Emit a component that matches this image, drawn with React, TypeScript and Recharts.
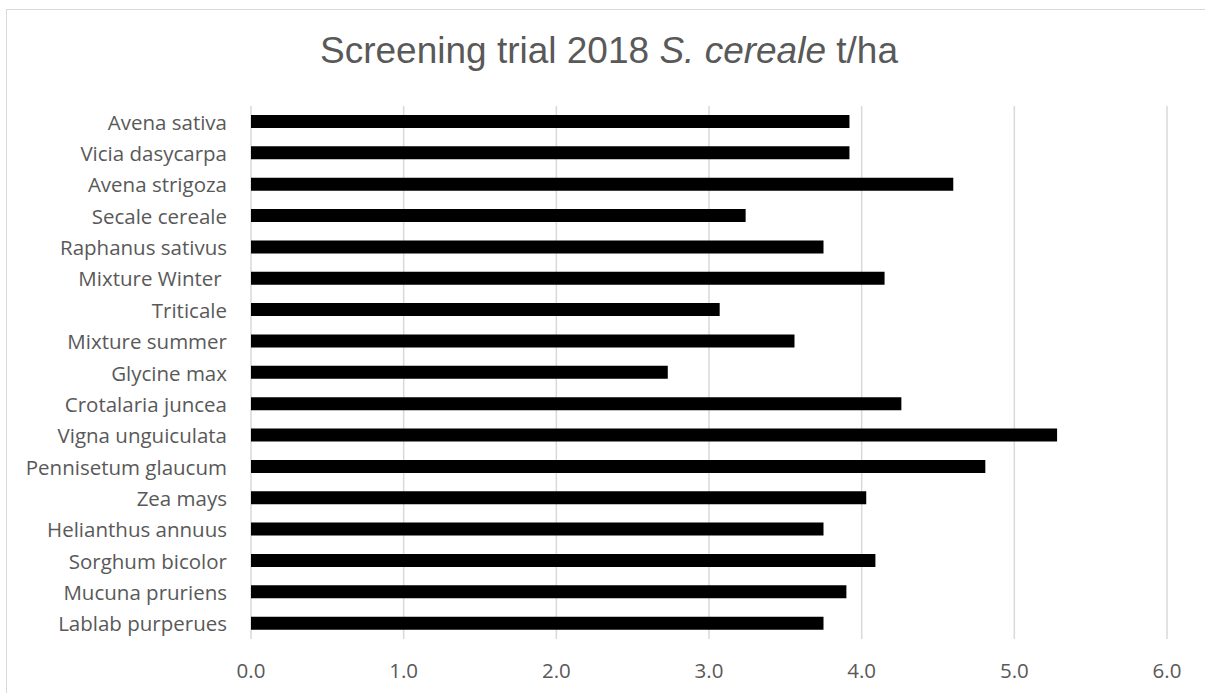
import React from "react";
import { BarChart, Bar, XAxis, YAxis, CartesianGrid } from "recharts";

const categories: string[] = [
  "Avena sativa",
  "Vicia dasycarpa",
  "Avena strigoza",
  "Secale cereale",
  "Raphanus sativus",
  "Mixture Winter ",
  "Triticale",
  "Mixture summer",
  "Glycine max",
  "Crotalaria juncea",
  "Vigna unguiculata",
  "Pennisetum glaucum",
  "Zea mays",
  "Helianthus annuus",
  "Sorghum bicolor",
  "Mucuna pruriens",
  "Lablab purperues",
];

const yieldValues: number[] = [
  3.92, 3.92, 4.6, 3.24, 3.75, 4.15, 3.07, 3.56, 2.73, 4.26, 5.28, 4.81, 4.03,
  3.75, 4.09, 3.9, 3.75,
];

const xTicks: number[] = [0, 1, 2, 3, 4, 5, 6];

const data = categories.map((name, i) => ({ name, value: yieldValues[i] }));

const TEXT_COLOR = "#595959";

const YTick = (props: any) => {
  const { x, y, payload } = props;
  return (
    <text
      x={x}
      y={y}
      textAnchor="end"
      dominantBaseline="central"
      fill={TEXT_COLOR}
      fontFamily="'Open Sans', sans-serif"
      fontSize={20.5}
      style={{ whiteSpace: "pre" }}
    >
      {payload.value}
    </text>
  );
};

const XTick = (props: any) => {
  const { x, y, payload } = props;
  return (
    <text
      x={x}
      y={y + 31}
      textAnchor="middle"
      dominantBaseline="central"
      fill={TEXT_COLOR}
      fontFamily="'Open Sans', sans-serif"
      fontSize={20.5}
    >
      {Number(payload.value).toFixed(1)}
    </text>
  );
};

export default function App() {
  return (
    <div
      style={{
        position: "absolute",
        left: 0,
        top: 0,
        width: 1205,
        height: 693,
        overflow: "hidden",
        background: "#fff",
      }}
    >
      <div
        style={{
          position: "absolute",
          left: 6,
          top: 9,
          width: 1250,
          height: 750,
          border: "1.5px solid #d9d9d9",
          boxSizing: "border-box",
        }}
      />
      <svg
        width={1205}
        height={100}
        style={{ position: "absolute", left: 0, top: 0 }}
      >
        <text
          x={609}
          y={63}
          textAnchor="middle"
          fill={TEXT_COLOR}
          fontFamily="'Liberation Sans', Arial, sans-serif"
          fontSize={37}
        >
          Screening trial 2018{" "}
          <tspan fontStyle="italic">S. cereale</tspan> t/ha
        </text>
      </svg>
      <div style={{ position: "absolute", left: 0, top: 0 }}>
        <BarChart
          width={1205}
          height={693}
          data={data}
          layout="vertical"
          margin={{ top: 106, right: 38, bottom: 0, left: 0 }}
          barSize={13}
        >
          <CartesianGrid
            horizontal={false}
            vertical={true}
            stroke="#d9d9d9"
            strokeWidth={1.5}
          />
          <XAxis
            type="number"
            domain={[0, 6]}
            ticks={xTicks}
            interval={0}
            axisLine={false}
            tickLine={false}
            tickSize={0}
            tickMargin={0}
            height={54}
            tick={<XTick />}
          />
          <YAxis
            type="category"
            dataKey="name"
            width={251}
            axisLine={false}
            tickLine={false}
            tickSize={0}
            tickMargin={24}
            interval={0}
            tick={<YTick />}
          />
          <Bar dataKey="value" fill="#000000" isAnimationActive={false} />
        </BarChart>
      </div>
    </div>
  );
}
